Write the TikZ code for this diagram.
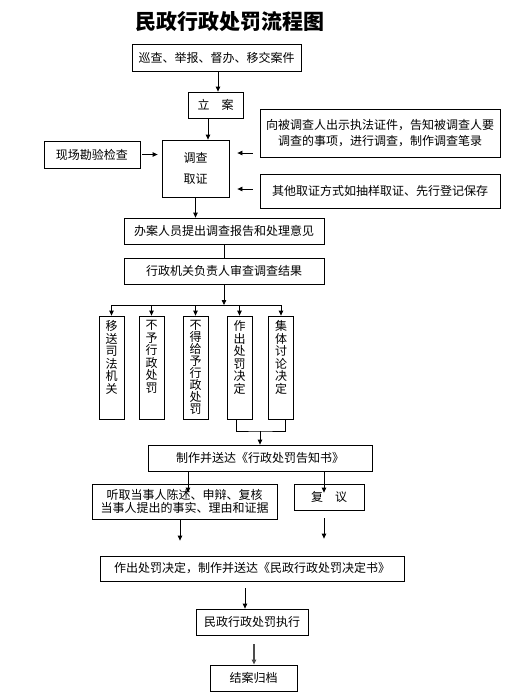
\documentclass[tikz,border=0pt]{standalone}
\usepackage{fontspec}
\setmainfont{Noto Sans CJK SC}
\usetikzlibrary{arrows.meta}
\newcommand{\vstack}[2][12.5pt]{\parbox[c][94pt][t]{14pt}{\fontsize{12}{#1}\selectfont\centering #2}}

\begin{document}
\begin{tikzpicture}[x=1pt,y=1pt,font=\fontsize{12}{14}\selectfont,
    box/.style={draw,line width=0.8pt,inner sep=0pt,align=center},
    vbox/.style={box,minimum width=25pt,minimum height=103pt},
    arr/.style={-{Triangle[length=5pt,width=4.5pt]},line width=0.8pt},
    lin/.style={line width=0.8pt}]
    \useasboundingbox (0,0) rectangle (509,-697);
    % Title
    \node[font=\fontsize{21}{24}\selectfont\bfseries] (ttl) at (230,-22) {民政行政处罚流程图};
    % Investigation stage
    \node[box,minimum width=169pt,minimum height=27pt] (src) at (216.5,-57.5) {巡查、举报、督办、移交案件};
    \node[box,minimum width=55pt,minimum height=26pt]  (lian) at (215.5,-105) {立　案};
    \node[box,minimum width=67pt,minimum height=57pt,font=\fontsize{12}{21}\selectfont] (dc) at (195.5,-168.5) {调查\\取证};
    \node[box,minimum width=96pt,minimum height=27pt]  (xc) at (92,-154.5) {现场勘验检查};
    \node[box,minimum width=240pt,minimum height=48pt,font=\fontsize{12}{15.5}\selectfont] (sx1) at (380,-133)
      {向被调查人出示执法证件，告知被调查人要\\调查的事项，进行调查，制作调查笔录};
    \node[box,minimum width=240pt,minimum height=34pt] (sx2) at (380,-191) {其他取证方式如抽样取证、先行登记保存};
    \node[box,minimum width=200pt,minimum height=26pt] (bg) at (224,-231) {办案人员提出调查报告和处理意见};
    \node[box,minimum width=200pt,minimum height=26pt] (sc) at (224,-271) {行政机关负责人审查调查结果};
    % Outcomes
    \node[vbox] (v1) at (111.5,-367.5) {\vstack{移\\送\\司\\法\\机\\关}};
    \node[vbox] (v2) at (151.5,-367.5) {\vstack{不\\予\\行\\政\\处\\罚}};
    \node[vbox] (v3) at (195.5,-367.5) {\vstack[11.9pt]{不\\得\\给\\予\\行\\政\\处\\罚}};
    \node[vbox] (v4) at (239.5,-367.5) {\vstack{作\\出\\处\\罚\\决\\定}};
    \node[vbox] (v5) at (281,-367.5)   {\vstack{集\\体\\讨\\论\\决\\定}};
    % Decision stage
    \node[box,minimum width=224pt,minimum height=26pt] (gz) at (260,-458) {制作并送达《行政处罚告知书》};
    \node[box,minimum width=185pt,minimum height=35pt,font=\fontsize{12}{13.5}\selectfont] (tq) at (184.5,-501.5)
      {听取当事人陈述、申辩、复核\\当事人提出的事实、理由和证据};
    \node[box,minimum width=70pt,minimum height=26pt]  (fy) at (329,-497) {复　议};
    \node[box,minimum width=304pt,minimum height=25pt] (jd) at (252,-568.5) {作出处罚决定，制作并送达《民政行政处罚决定书》};
    \node[box,minimum width=112pt,minimum height=26pt] (zx) at (252,-622) {民政行政处罚执行};
    \node[box,minimum width=87pt,minimum height=26pt]  (ja) at (253.5,-678) {结案归档};
    \coordinate (br) at (224,-305);
    \coordinate (mg) at (260,-431);
    \coordinate (s1) at ([yshift=-20pt]sx1.west);
    \coordinate (s2) at ([yshift=2pt]sx2.west);
    % Arrows
    \draw[arr] ([xshift=1.5pt]src.south) -- ([xshift=1.5pt]src.south |- lian.north);
    \draw[arr] ([xshift=-7.5pt]lian.south) -- ([xshift=-7.5pt]lian.south |- dc.north);
    \draw[arr,shorten <=2pt,shorten >=4pt] (xc.east) -- (dc.west |- xc.east);
    \draw[arr,shorten <=7pt,shorten >=8pt] (s1) -- (dc.east |- s1);
    \draw[arr,shorten <=7pt,shorten >=8pt] (s2) -- (dc.east |- s2);
    \draw[arr] (dc.south) -- (dc.south |- bg.north);
    \draw[lin] (bg.south) -- (sc.north);
    \draw[arr] (sc.south) -- (br);
    \draw[lin] (v1.north |- br) -- (v5.north |- br);
    \foreach \v in {v1,v2,v3,v4,v5}
      \draw[arr] (\v.north |- br) -- (\v.north);
    \draw[lin] ([xshift=-3.5pt]v4.south) |- (mg) -| ([xshift=4pt]v5.south);
    \draw[arr] (mg) -- (mg |- gz.north);
    \draw[arr] (gz.south -| 188,0) -- ([yshift=-9pt]tq.north -| 188,0);
    \draw[arr] (gz.south -| 324,0) -- ([yshift=-9pt]fy.north -| 324,0);
    \draw[arr,shorten >=15pt] (tq.south -| 180,0) -- (jd.north -| 180,0);
    \draw[arr,shorten <=8pt,shorten >=17pt] (fy.south -| 324,0) -- (jd.north -| 324,0);
    \draw[arr,shorten <=7pt] (jd.south -| 245,0) -- (zx.north -| 245,0);
    \draw[arr,shorten <=9pt,line width=1.2pt,black!70] (zx.south -| 254,0) -- (ja.north -| 254,0);
\end{tikzpicture}
\end{document}
